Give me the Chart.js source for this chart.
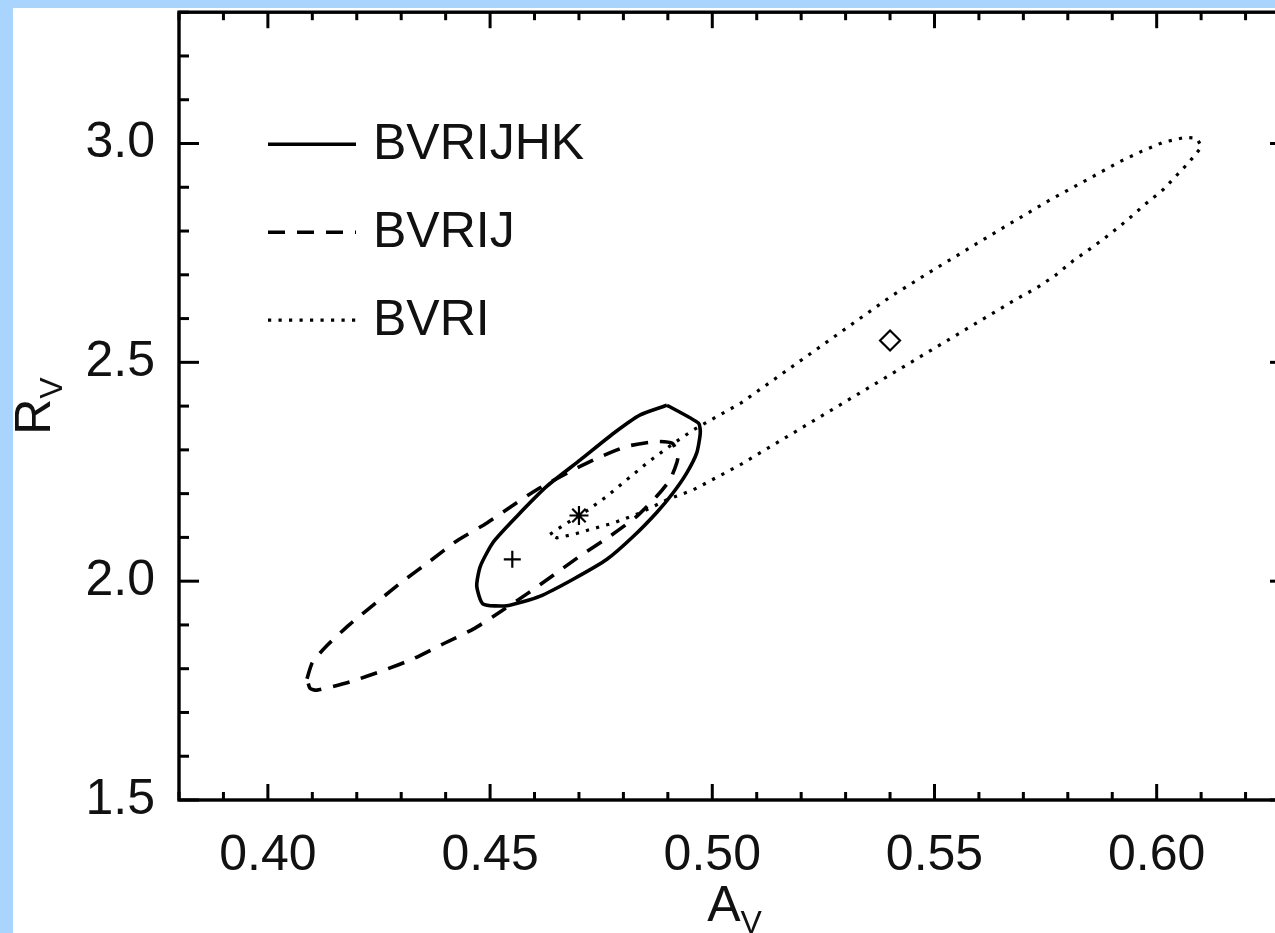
<!DOCTYPE html>
<html><head><meta charset="utf-8">
<script src="https://cdn.jsdelivr.net/npm/chart.js@4.4.1/dist/chart.umd.min.js"></script>
<style>
html,body{margin:0;padding:0;width:1275px;height:933px;overflow:hidden;background:#a8d4fd;}
#paper{position:absolute;left:13px;top:8px;right:0;bottom:0;background:#fff;}
#wrap{position:absolute;left:0;top:0;width:1320px;height:933px;}
canvas{display:block;}
</style></head><body>
<div id="paper"></div>
<div id="wrap"><canvas id="c" width="1320" height="933"></canvas></div>
<script>
// ---- axis ranges and tick labels ----
const xMin = 0.38, xMax = 0.63;
const yMin = 1.5, yMax = 3.3;
const xTickValues = [0.40, 0.45, 0.50, 0.55, 0.60];
const yTickValues = [1.5, 2.0, 2.5, 3.0];
const xTitle = ['A', 'V'];   // A with subscript V
const yTitle = ['R', 'V'];   // R with subscript V
const legendLabels = ['BVRIJHK', 'BVRIJ', 'BVRI'];

// ---- contour BVRIJHK (solid) ----
const bvrijhkAv = [0.4898,0.4969,0.4973,0.4965,0.4943,0.4912,0.4875,0.4822,0.4763,0.4688,0.4613,0.4538,0.4484,0.4470,0.4478,0.4507,0.4560,0.4628,0.4703,0.4778,0.4838,0.4898];
const bvrijhkRv = [2.402,2.361,2.339,2.293,2.248,2.202,2.157,2.102,2.050,2.005,1.966,1.944,1.948,1.989,2.034,2.089,2.148,2.217,2.277,2.338,2.380,2.402];

// ---- contour BVRIJ (dashed) ----
const bvrijAv = [0.4088,0.4100,0.4133,0.4185,0.4245,0.4305,0.4365,0.4425,0.4493,0.4560,0.4605,0.4673,0.4733,0.4808,0.4875,0.4910,0.4923,0.4920,0.4905,0.4875,0.4830,0.4770,0.4703,0.4643,0.4583,0.4529,0.4463,0.4395,0.4328,0.4260,0.4185,0.4110,0.4095,0.4088];
const bvrijRv = [1.777,1.814,1.853,1.902,1.952,2.001,2.046,2.092,2.133,2.179,2.209,2.247,2.277,2.308,2.319,2.315,2.289,2.270,2.232,2.194,2.148,2.103,2.058,2.014,1.971,1.934,1.891,1.857,1.823,1.796,1.770,1.751,1.755,1.777];

// ---- contour BVRI (dotted) ----
const bvriAv = [0.4635,0.4664,0.4718,0.4763,0.4808,0.4853,0.4913,0.4958,0.5010,0.5063,0.5404,0.5494,0.5580,0.5670,0.5760,0.5850,0.5918,0.5966,0.6015,0.6064,0.6090,0.6101,0.6086,0.6068,0.6015,0.5974,0.5936,0.5895,0.5854,0.5812,0.5771,0.5730,0.5685,0.5063,0.4958,0.4898,0.4838,0.4778,0.4725,0.4688,0.4650,0.4635];
const bvriRv = [2.107,2.127,2.161,2.194,2.232,2.270,2.315,2.346,2.376,2.406,2.652,2.709,2.762,2.817,2.871,2.921,2.959,2.982,3.003,3.014,3.012,2.993,2.973,2.952,2.895,2.861,2.827,2.793,2.762,2.732,2.698,2.670,2.645,2.266,2.209,2.186,2.156,2.133,2.118,2.107,2.099,2.107];

// ---- best-fit markers: asterisk (BVRIJHK), plus (BVRIJ), diamond (BVRI) ----
const markerAv = [0.470, 0.455, 0.540];
const markerRv = [2.15, 2.05, 2.55];

const FONT = '"Liberation Sans", Arial, Helvetica, sans-serif';
const toPts = (a, r) => a.map((v, i) => ({x: v, y: r[i]}));

const lineStyles = [
  {dash: [], width: 3.6, tension: 0.2},
  {dash: [17, 12], width: 3.6, tension: 0.2},
  {dash: [3.2, 7.3], width: 3.2, tension: 0}
];
const markerStyles = [
  {style: 'star', radius: 9.5},
  {style: 'cross', radius: 8.5},
  {style: 'rectRot', radius: 10}
];

const contourSets = [[bvrijhkAv, bvrijhkRv], [bvrijAv, bvrijRv], [bvriAv, bvriRv]];
const datasets = contourSets.map((s, i) => ({
  label: legendLabels[i],
  data: toPts(s[0], s[1]),
  showLine: true, fill: false, tension: lineStyles[i].tension,
  borderColor: '#000', borderWidth: lineStyles[i].width,
  borderDash: lineStyles[i].dash, borderCapStyle: 'butt', borderJoinStyle: 'round',
  pointRadius: 0, pointHoverRadius: 0
}));
markerAv.forEach((v, i) => datasets.push({
  label: 'marker' + i,
  data: [{x: v, y: markerRv[i]}],
  showLine: false,
  pointStyle: markerStyles[i].style,
  pointRadius: markerStyles[i].radius,
  pointBorderWidth: 2.2,
  borderColor: '#000',
  pointBorderColor: '#000',
  pointBackgroundColor: 'rgba(0,0,0,0)',
  backgroundColor: 'rgba(0,0,0,0)'
}));

const framePlugin = {
  id: 'frame',
  afterDraw(chart) {
    const {ctx, chartArea: a, scales: {x, y}} = chart;
    ctx.save();
    ctx.strokeStyle = '#000';
    ctx.fillStyle = '#000';
    ctx.lineCap = 'butt';
    const seg = (x1, y1, x2, y2) => { ctx.beginPath(); ctx.moveTo(x1, y1); ctx.lineTo(x2, y2); ctx.stroke(); };
    // ticks
    ctx.lineWidth = 3;
    for (let k = Math.round(xMin * 100); k <= Math.round(xMax * 100); k++) {
      const px = x.getPixelForValue(k / 100);
      const len = (k % 5 === 0) ? 16 : 8;
      seg(px, a.bottom, px, a.bottom - len);
      seg(px, a.top, px, a.top + len);
    }
    for (let k = Math.round(yMin * 10); k <= Math.round(yMax * 10); k++) {
      const py = y.getPixelForValue(k / 10);
      const len = (k % 5 === 0) ? 20 : 10;
      seg(a.left, py, a.left + len, py);
      seg(a.right, py, a.right - len, py);
    }
    // box
    ctx.lineWidth = 3.4;
    ctx.strokeRect(a.left, a.top, a.right - a.left, a.bottom - a.top);

    // legend
    const lx0 = a.left + 89, lx1 = a.left + 177, tx = a.left + 194;
    legendLabels.forEach((lab, i) => {
      const ly = a.top + 132 + i * 88;
      ctx.save();
      ctx.lineWidth = lineStyles[i].width;
      ctx.setLineDash(lineStyles[i].dash);
      seg(lx0, ly, lx1, ly);
      ctx.restore();
      ctx.font = '50px ' + FONT;
      ctx.textBaseline = 'middle';
      ctx.textAlign = 'left';
      ctx.fillStyle = '#111';
      ctx.fillText(lab, tx, ly + 1);
    });

    // axis titles with subscripts
    const drawSub = (parts, cx, base) => {
      ctx.textAlign = 'left';
      ctx.textBaseline = 'alphabetic';
      ctx.font = '50px ' + FONT;
      const w0 = ctx.measureText(parts[0]).width;
      ctx.font = '32px ' + FONT;
      const w1 = ctx.measureText(parts[1]).width;
      const start = cx - (w0 + w1) / 2;
      ctx.font = '50px ' + FONT;
      ctx.fillText(parts[0], start, base);
      ctx.font = '32px ' + FONT;
      ctx.fillText(parts[1], start + w0, base + 12);
    };
    ctx.fillStyle = '#111';
    drawSub(xTitle, (a.left + a.right) / 2, a.bottom + 121);
    ctx.save();
    ctx.translate(a.left - 129, (a.top + a.bottom) / 2);
    ctx.rotate(-Math.PI / 2);
    drawSub(yTitle, 0, 0);
    ctx.restore();
    ctx.restore();
  }
};

new Chart(document.getElementById('c'), {
  type: 'scatter',
  data: {datasets},
  options: {
    responsive: false,
    animation: false,
    events: [],
    layout: {padding: {top: 10, right: 30, left: 0, bottom: 0}},
    plugins: {legend: {display: false}, tooltip: {enabled: false}, title: {display: false}},
    scales: {
      x: {
        type: 'linear', position: 'bottom', min: xMin, max: xMax,
        grid: {display: false}, border: {display: false},
        afterBuildTicks: s => { s.ticks = xTickValues.map(v => ({value: v})); },
        afterFit: s => { s.height = 133; s.paddingLeft = 0; s.paddingRight = 0; },
        ticks: {autoSkip: false, maxRotation: 0, padding: 18, color: '#111',
          font: {family: FONT, size: 50}, callback: v => Number(v).toFixed(2)}
      },
      y: {
        type: 'linear', position: 'left', min: yMin, max: yMax,
        grid: {display: false}, border: {display: false},
        afterBuildTicks: s => { s.ticks = yTickValues.map(v => ({value: v})); },
        afterFit: s => { s.width = 179; s.paddingTop = 0; s.paddingBottom = 0; },
        ticks: {autoSkip: false, padding: 16, color: '#111',
          font: {family: FONT, size: 50}, callback: v => Number(v).toFixed(1)}
      }
    }
  },
  plugins: [framePlugin]
});
</script>
</body></html>
